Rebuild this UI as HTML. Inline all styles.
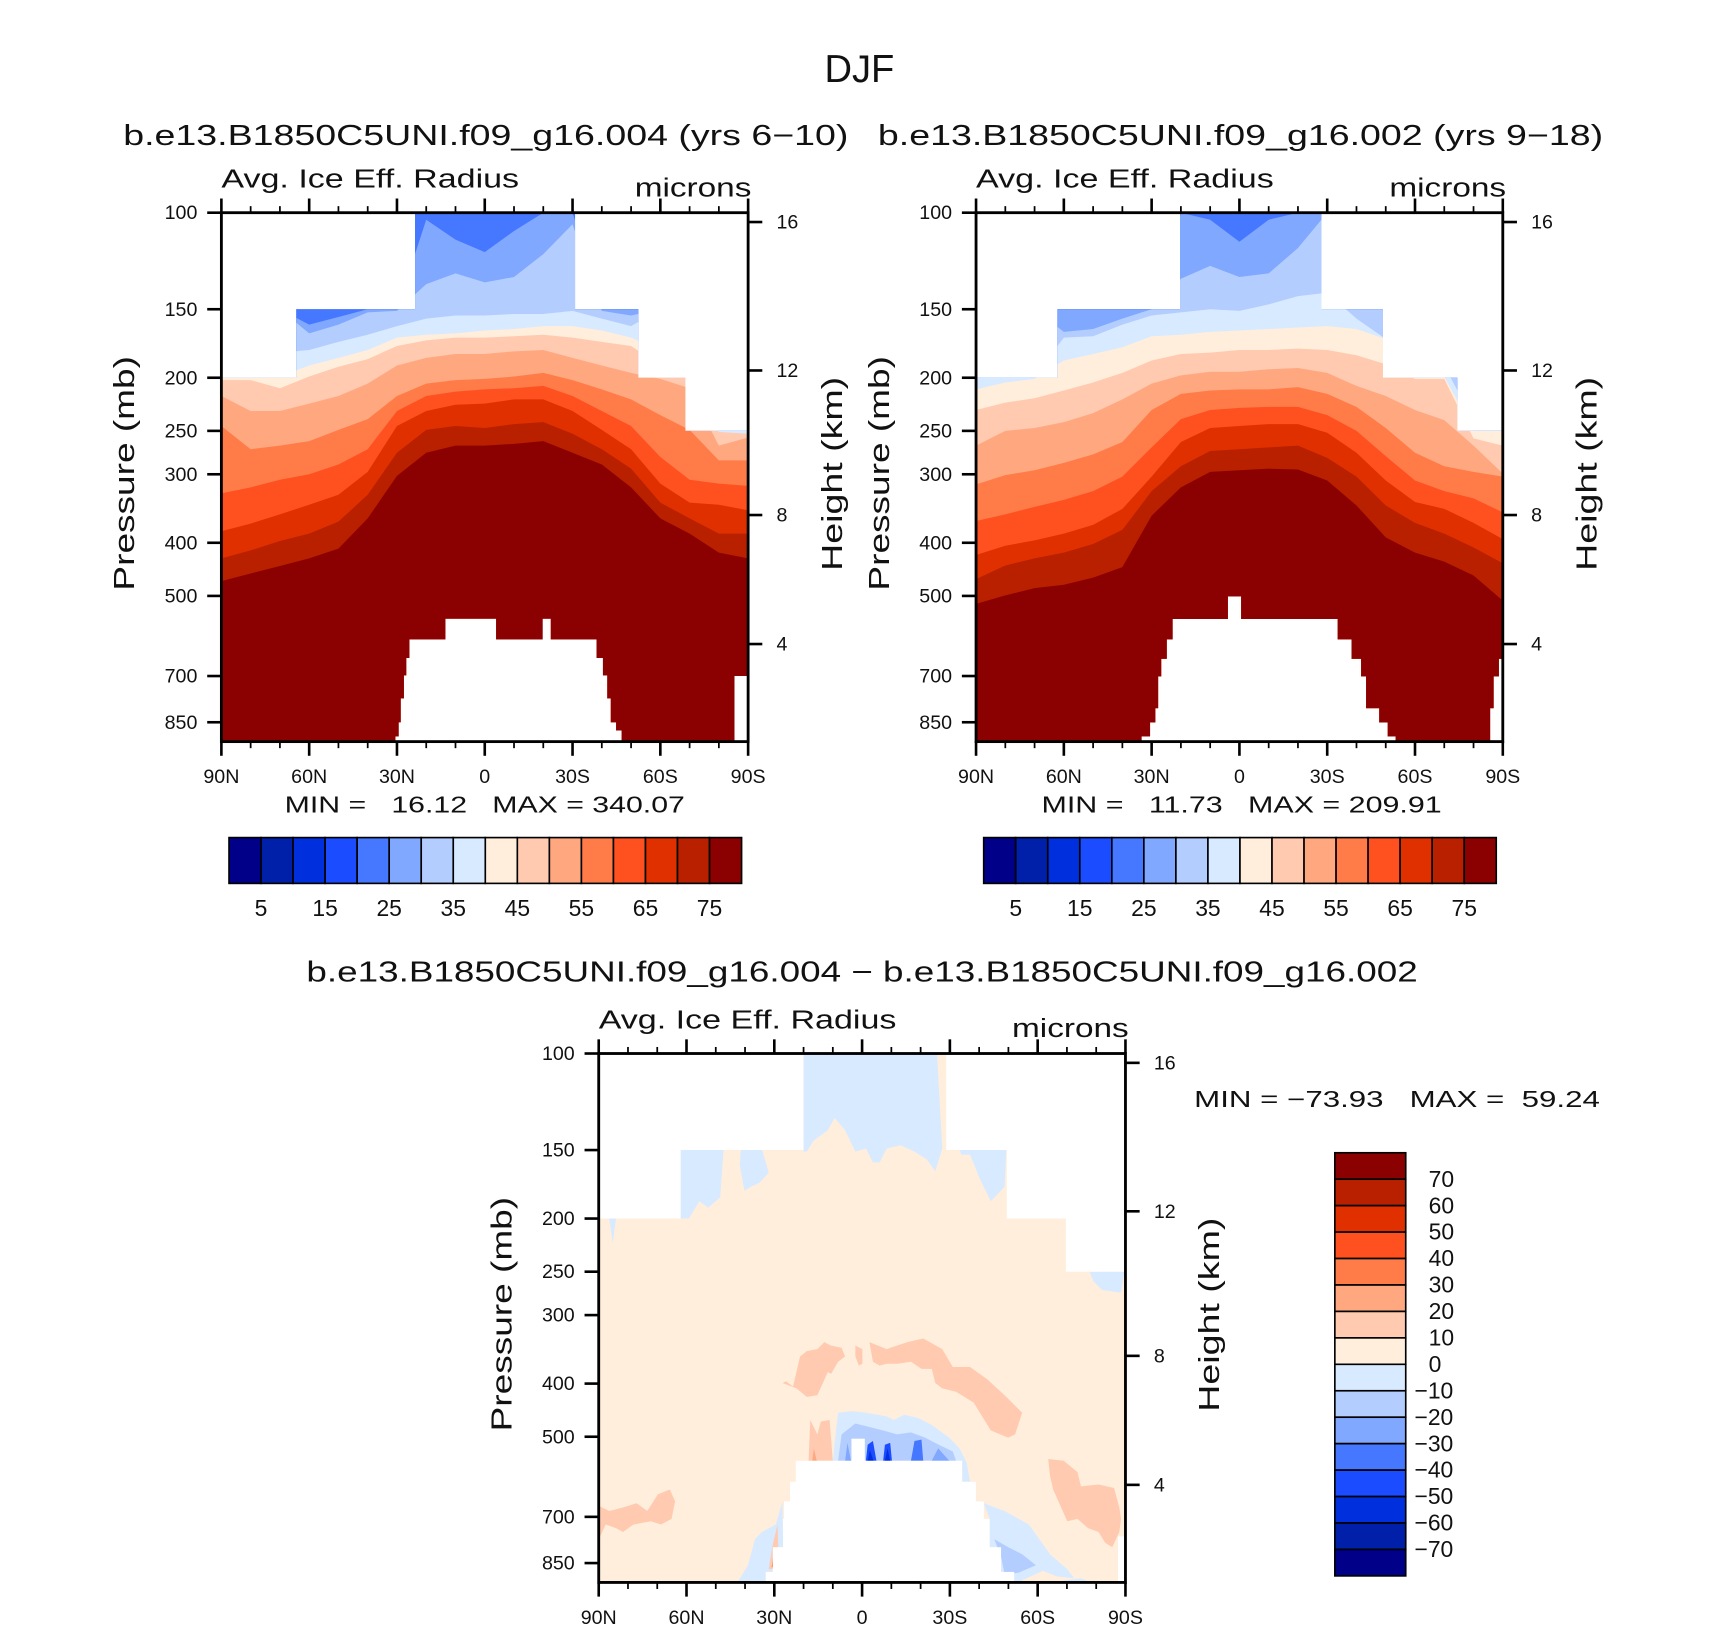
<!DOCTYPE html>
<html><head><meta charset="utf-8"><style>
html,body{margin:0;padding:0;background:#fff}
svg{display:block}
text{font-family:"Liberation Sans",sans-serif;fill:#111}
</style></head><body>
<svg id="fig" xmlns="http://www.w3.org/2000/svg" width="1710" height="1631" viewBox="0 0 1568 1495.5">
<rect width="1568" height="1496" fill="#fff"/>
<text x="756" y="75" font-size="36" textLength="64" lengthAdjust="spacingAndGlyphs">DJF</text>
<text x="113" y="133" font-size="26" textLength="665" lengthAdjust="spacingAndGlyphs">b.e13.B1850C5UNI.f09_g16.004 (yrs 6−10)</text>
<text x="805" y="133" font-size="26" textLength="665" lengthAdjust="spacingAndGlyphs">b.e13.B1850C5UNI.f09_g16.002 (yrs 9−18)</text>
<text x="281" y="900" font-size="26" textLength="1019" lengthAdjust="spacingAndGlyphs">b.e13.B1850C5UNI.f09_g16.004 − b.e13.B1850C5UNI.f09_g16.002</text>
<text x="261" y="745" font-size="21" textLength="367" lengthAdjust="spacingAndGlyphs" xml:space="preserve">MIN =   16.12   MAX = 340.07</text>
<text x="955" y="745" font-size="21" textLength="367" lengthAdjust="spacingAndGlyphs" xml:space="preserve">MIN =   11.73   MAX = 209.91</text>
<text x="1095" y="1015" font-size="21" textLength="372" lengthAdjust="spacingAndGlyphs" xml:space="preserve">MIN = −73.93   MAX =  59.24</text>
<g id="layer"></g>
</svg>
<script>
const COLORS = ['#000088','#0020aa','#0030dd','#1c4cff','#4678ff','#80a8ff','#b4cdff','#d8eaff','#ffeedc','#ffcab0','#ffa880','#ff7c48','#ff5020','#e03000','#b82000','#8b0000'];
const lats = [90,80,70,60,50,40,30,20,10,0,-10,-20,-30,-40,-50,-60,-70,-80,-90];
const latTicks = [90,60,30,0,-30,-60,-90];
const latTickLabels = ['90N','60N','30N','0','30S','60S','90S'];
const presTicks = [100,150,200,250,300,400,500,700,850];
const heightTicks = [16,12,8,4];
const heightTickPres = [104,194,356,612];
const absLevels = [20,25,30,35,40,45,50,55,60,65,70,75];
const absBarLabels = ['5','15','25','35','45','55','65','75'];
const diffBarLabels = ['70','60','50','40','30','20','10','0','−10','−20','−30','−40','−50','−60','−70'];

const p1_b20 = [100,100,100,100,100,100,100,100,100,100,100,100,100,100,100,100,100,100,100];
const p1_b25 = [150,150,150,160,155,150,150,103,112,118,108,100,100,150,150,150,150,150,150];
const p1_b30 = [150,150,150,166,160,152,151,135,129,134,131,119,105,151,154,150,150,150,150];
const p1_b35 = [180,180,180,178,172,167,161,156,154,154,153,153,151,156,161,150,150,150,150];
const p1_b40 = [200,198,199,190,184,178,169,167,166,164,163,161,161,164,169,178,184,251,253];
const p1_b45 = [202,202,209,199,191,185,175,171,169,169,168,167,169,172,175,190,190,251,253];
const p1_b50 = [216,230,230,223,216,205,190,184,181,181,179,178,184,190,196,201,209,266,257];
const p1_b55 = [245,270,266,261,249,238,216,205,202,201,199,196,202,210,219,234,249,283,283];
const p1_b60 = [325,317,307,300,288,270,230,216,212,210,209,207,216,230,245,279,307,312,315];
const p1_b65 = [381,369,355,341,327,297,245,230,224,223,219,219,230,249,270,312,338,341,349];
const p1_b70 = [427,413,397,385,366,327,274,249,245,247,243,241,253,270,293,338,361,385,385];
const p1_b75 = [470,455,441,427,410,361,302,274,266,266,264,261,274,288,317,361,385,417,427];
const p2_b20 = [100,100,100,100,100,100,100,100,100,100,100,100,100,100,100,100,100,100,100];
const p2_b25 = [150,150,150,150,150,150,150,100,103,113,103,100,100,150,150,150,150,150,150];
const p2_b30 = [150,150,150,165,163,156,150,132,125,131,129,116,100,140,140,150,150,150,150];
const p2_b35 = [199,199,199,169,168,160,154,152,150,151,147,142,140,156,170,190,190,240,240];
const p2_b40 = [210,204,201,186,181,176,168,167,165,164,163,162,161,163,170,198,199,250,250];
const p2_b45 = [229,222,218,211,204,196,186,181,180,178,178,177,178,182,189,201,201,258,266];
const p2_b50 = [266,250,247,241,232,219,205,198,195,195,193,192,196,207,216,229,239,266,299];
const p2_b55 = [313,301,295,286,276,262,229,214,211,210,210,208,214,226,247,274,290,297,303];
const p2_b60 = [365,355,344,334,322,303,268,238,229,227,226,226,234,250,278,308,322,332,352];
const p2_b65 = [421,405,396,385,371,347,303,262,247,245,243,243,252,274,308,337,347,368,394];
const p2_b70 = [466,440,427,417,402,379,322,290,272,270,268,266,280,303,342,368,385,408,436];
const p2_b75 = [517,499,484,477,463,443,357,317,297,295,293,294,308,342,391,417,433,459,510];

const mask1 = [[90,64.4,200,922],[64.4,30.7,150,922],[30.7,29.6,150,902],[29.6,28.9,150,850],[28.9,27.8,150,769],[27.8,27,150,698],[27,25.9,150,649],[25.9,23.8,150,600],[23.8,13.6,100,600],[13.6,-3.9,100,550],[-3.9,-19.6,100,600],[-19.6,-22.6,100,550],[-22.6,-30.7,100,600],[-30.7,-38.2,150,600],[-38.2,-40.4,150,649],[-40.4,-41.9,150,698],[-41.9,-43.1,150,769],[-43.1,-44.9,150,850],[-44.9,-46.8,150,880],[-46.8,-52.3,150,922],[-52.3,-68.4,200,922],[-68.4,-85.2,250,922],[-85.2,-90,250,700]];
const mask2 = [[90,62.2,200,922],[62.2,33.6,150,922],[33.6,30.7,150,902],[30.7,28.9,150,851],[28.9,27.95,150,801],[27.95,26.9,150,701],[26.9,25,150,651],[25,23,150,600],[23,20.3,150,551],[20.3,4.1,100,551],[4.1,-0.6,100,501],[-0.6,-27.9,100,551],[-27.9,-33.6,150,551],[-33.6,-38.3,150,600],[-38.3,-41.6,150,651],[-41.6,-43.3,150,701],[-43.3,-47.8,150,801],[-47.8,-48.9,150,851],[-48.9,-50.7,200,851],[-50.7,-53.4,200,902],[-53.4,-74.3,200,922],[-74.3,-85.5,250,922],[-85.5,-86.7,250,801],[-86.7,-88.5,250,701],[-88.5,-90,250,651]];
const mask3 = [[90,62,200,922],[62,33.1,150,922],[33.1,30.7,150,882],[30.7,27.2,150,795],[27.2,26.8,150,706],[26.8,24.8,150,656],[24.8,22.8,150,604],[22.8,20,150,553],[20,3.8,100,553],[3.8,-0.95,100,504],[-0.95,-28.6,100,553],[-28.6,-34.2,150,553],[-34.2,-38.9,150,604],[-38.9,-41.6,150,656],[-41.6,-43.6,150,706],[-43.6,-47.5,150,795],[-47.5,-49.3,150,882],[-49.3,-52,200,882],[-52,-69.5,200,922],[-69.5,-87.3,250,922],[-87.3,-90,250,760]];

const diffBackground = 5;
const blobTopBlue = [[20,100],[-25.6,100],[-27.4,149],[-25,164],[-22.1,156],[-17.9,151],[-13.2,147],[-8.4,149],[-6,158],[-3.7,158],[-1.3,149],[2.3,151],[5.8,138],[9.4,131],[11.7,138],[16.5,144],[18.9,151],[20,151]];
const blobLeftBoxBlue = [[62,149],[47.3,149],[48.5,183],[52.6,191],[55.6,186],[59.2,200],[62,200]];
const blobLeftStrip = [[41.4,149],[34.3,149],[31.9,165],[35,172],[38,175],[40.2,178],[41.8,160]];
const blobRightBoxBlue = [[-33.3,149],[-49.3,149],[-48.7,175],[-44,186],[-40.4,170],[-36.9,153],[-33.9,153]];
const blobRight250Blue = [[-77.8,250],[-89.6,250],[-88.5,273],[-82,270],[-79,260]];
const blobLeft200Blue = [[86.4,200],[84.1,200],[85.2,222]];
const blobArcLeft = [[27.2,399],[26,396],[23.6,405],[21.2,357],[18.9,349],[15.3,346],[12.9,336],[10.6,341],[7,344],[5.8,357],[8.2,365],[10.6,384],[11.7,381],[15.3,420],[18.9,423],[22.4,408]];
const blobArcSmall = [[2.3,341],[-0.1,346],[-0.1,368],[1.1,371],[2.3,357]];
const blobArcMain = [[-2.5,336],[-8.4,346],[-15.5,336],[-20.9,331],[-27.4,346],[-31,373],[-36.9,373],[-42.8,393],[-48.7,420],[-54.7,452],[-52.3,495],[-49.9,502],[-44,487],[-38.1,433],[-32.1,414],[-27.4,408],[-25,399],[-23.8,376],[-20.3,376],[-16.7,365],[-12,368],[-8.4,368],[-6,371],[-3.7,365]];
const blobLeftLow = [[90,668],[86.4,683],[81.7,673],[77,661],[73.4,683],[69.8,637],[65.7,624],[63.9,656],[65.1,706],[68.7,723],[72.2,713],[75.8,719],[78.1,723],[81.7,746],[84.1,734],[87.6,723],[90,769]];
const blobRightLow = [[-63.6,549],[-68.9,553],[-73.6,580],[-74.8,616],[-80.8,611],[-86.1,620],[-87.9,673],[-88.5,706],[-87.9,746],[-85.5,795],[-83.1,781],[-80.8,746],[-77.2,734],[-73.6,706],[-70.1,713],[-65.3,624],[-64.2,589]];
const blobLowCenterOrange = [[17.7,466],[15.3,495],[14.1,469],[11.1,466],[10,553],[18.3,553]];
const blobLowRedSpot = [[17,553],[16.5,525],[15.5,553]];
const blobLeftBottomBlue = [[42.6,922],[39,858],[36.6,769],[34.3,746],[29.5,723],[27.2,656],[26.8,922]];
const blobLeftBottomOrange = [[31.9,872],[30.7,795],[28.9,723],[28.6,807],[29.5,872]];
const blobLeftBottomRed = [[30.9,865],[30.5,832],[29.8,865]];
const blobCenterBlue = [[8.2,452],[3.4,449],[-1.3,452],[-8.4,459],[-10.8,466],[-14.4,456],[-19.1,462],[-23.8,476],[-29.8,502],[-33.3,525],[-35.7,557],[-36.9,604],[-34.2,604],[-34.2,553],[10,553],[8.8,480]];
const blobCenterBlue2 = [[7,495],[2.3,473],[-2.5,480],[-7.2,487],[-12,495],[-16.7,491],[-21.5,502],[-26.2,517],[-31,532],[-32.1,553],[8.2,553]];
const blobSpotA = [[-1.3,553],[-1.9,517],[-3.7,509],[-4.9,553]];
const blobSpotB = [[-7.2,553],[-7.8,517],[-9.6,513],[-10.2,553]];
const blobSpotC = [[-16.7,553],[-17.9,509],[-20.3,506],[-20.9,553]];
const blobSpotD = [[5.8,553],[5,513],[3.8,553]];
const blobSpotE = [[-23.8,553],[-26,525],[-29.8,553]];
const blobCoreA = [[-1.9,553],[-2.7,529],[-3.9,553]];
const blobCoreB = [[-7.8,553],[-8.7,525],[-9.6,553]];
const blobBottomRightBlue = [[-41.6,661],[-48.7,683],[-57,723],[-60.6,769],[-64.2,819],[-70.1,872],[-72.5,906],[-66.5,899],[-61.8,878],[-54.7,914],[-53.5,922],[-47.6,922],[-43.6,872],[-43.6,706]];
const blobBottomRightBlue2 = [[-45.2,769],[-49.9,795],[-54.7,819],[-59.4,858],[-53.5,885],[-48.7,892],[-47.6,832]];
const blobBottomStrip = [[-68.9,914],[-74.8,906],[-78.4,922],[-67.7,922]];
const blobRightBoxOrange = [[-51.4,149],[-52.1,149],[-52.1,183],[-51.4,183]];
const diffBlobs = [blobTopBlue,blobLeftBoxBlue,blobLeftStrip,blobRightBoxBlue,blobRight250Blue,blobLeft200Blue,blobArcLeft,blobArcSmall,blobArcMain,blobLeftLow,blobRightLow,blobLowCenterOrange,blobLowRedSpot,blobLeftBottomBlue,blobLeftBottomOrange,blobLeftBottomRed,blobCenterBlue,blobCenterBlue2,blobSpotA,blobSpotB,blobSpotC,blobSpotD,blobSpotE,blobCoreA,blobCoreB,blobBottomRightBlue,blobBottomRightBlue2,blobBottomStrip,blobRightBoxOrange];
const diffBlobValues = [-5,-5,-5,-5,-5,-5,15,15,15,15,15,15,25,-5,15,35,-5,-15,-45,-45,-35,-25,-25,-55,-55,-5,-15,-5,25];

const NS='http://www.w3.org/2000/svg';
const layer=document.getElementById('layer');
const PBOT=922;
function mk(tag,attrs,parent){const e=document.createElementNS(NS,tag);for(const k in attrs)e.setAttribute(k,attrs[k]);(parent||layer).appendChild(e);return e;}
function makeScales(x0,y0,W,H){return {x:lat=>x0+(90-lat)/180*W,y:p=>y0+Math.log10(p/100)/Math.log10(PBOT/100)*H};}
function diffColor(v){let i=Math.floor((v+80)/10);return COLORS[Math.max(0,Math.min(15,i))];}

function clipFor(id,mask,s){
  const cp=mk('clipPath',{id:id});
  mask.forEach(m=>{mk('rect',{x:s.x(m[0]),y:s.y(m[2]),width:s.x(m[1])-s.x(m[0])+0.4,height:s.y(m[3])-s.y(m[2])},cp);});
}

function axes(g,s,x0,y0,W,H,name){
  const ax=mk('g',{},g);
  
  
  mk('rect',{x:x0,y:y0,width:W,height:H,fill:'none',stroke:'#000','stroke-width':2.6},ax);
  for(let lat=90;lat>=-90;lat-=10){
    const x=s.x(lat);const major=(lat%30===0);const L=major?13:6;
    mk('line',{x1:x,y1:y0,x2:x,y2:y0-L,stroke:'#000','stroke-width':major?2.4:1.6},ax);
    mk('line',{x1:x,y1:y0+H,x2:x,y2:y0+H+L,stroke:'#000','stroke-width':major?2.4:1.6},ax);
  }
  latTicks.forEach((lat,i)=>{const t=mk('text',{x:s.x(lat),y:y0+H+38,'font-size':18,'text-anchor':'middle'},ax);t.textContent=latTickLabels[i];
    
    });
  presTicks.forEach(p=>{const y=s.y(p);mk('line',{x1:x0,y1:y,x2:x0-13,y2:y,stroke:'#000','stroke-width':2.4},ax);
    const t=mk('text',{x:x0-22,y:y+6,'font-size':18,'text-anchor':'end'},ax);t.textContent=p;
    
    });
  heightTicks.forEach((h,i)=>{const y=s.y(heightTickPres[i]);mk('line',{x1:x0+W,y1:y,x2:x0+W+13,y2:y,stroke:'#000','stroke-width':2.4},ax);
    const t=mk('text',{x:x0+W+26,y:y+6,'font-size':18},ax);t.textContent=h;
    
    });
  let t=mk('text',{x:x0,y:y0-23,'font-size':24,textLength:273,lengthAdjust:'spacingAndGlyphs'},ax);t.textContent='Avg. Ice Eff. Radius';
  
  
  t=mk('text',{x:x0+W+3-107,y:y0-15,'font-size':24,textLength:107,lengthAdjust:'spacingAndGlyphs'},ax);t.textContent='microns';
  
  
  t=mk('text',{x:-107,y:0,'font-size':26,textLength:215,lengthAdjust:'spacingAndGlyphs',transform:`translate(${x0-80},${y0+H/2-3}) rotate(-90)`},ax);t.textContent='Pressure (mb)';
  
  
  t=mk('text',{x:-89,y:0,'font-size':26,textLength:178,lengthAdjust:'spacingAndGlyphs',transform:`translate(${x0+W+86},${y0+H/2-3}) rotate(-90)`},ax);t.textContent='Height (km)';
  
  
}

function absPanel(id,x0,y0,W,H,mask,bounds){
  const s=makeScales(x0,y0,W,H);
  clipFor(id+'-clip',mask,s);
  const g=mk('g',{'clip-path':`url(#${id}-clip)`});
  
  
  const bg=mk('rect',{x:x0,y:y0,width:W,height:H,fill:COLORS[3]},g);
  
  
  absLevels.forEach((lev,k)=>{
    const b=bounds[k];
    let d=`M${s.x(90)},${s.y(PBOT)+2}`;
    lats.forEach((lat,i)=>{d+=` L${s.x(lat)},${s.y(b[i])}`;});
    d+=` L${s.x(-90)},${s.y(PBOT)+2} Z`;
    const pth=mk('path',{d:d,fill:COLORS[Math.min(15,lev/5)]},g);
    
    
  });
  const outer=mk('g',{});axes(outer,s,x0,y0,W,H,id);
}

function hBar(id,x0,y0,W,H){
  const g=mk('g',{});
  
  
  const bw=W/16;
  COLORS.forEach((c,i)=>{const r=mk('rect',{x:x0+i*bw,y:y0,width:bw,height:H,fill:c,stroke:'#000','stroke-width':1.5},g);
    
    });
  absBarLabels.forEach((lab,i)=>{const t=mk('text',{x:x0+(1+2*i)*bw,y:y0+H+30,'font-size':21,'text-anchor':'middle'},g);t.textContent=lab;
    
    });
}

absPanel('panel1',203,195,483,485,mask1,[p1_b20,p1_b25,p1_b30,p1_b35,p1_b40,p1_b45,p1_b50,p1_b55,p1_b60,p1_b65,p1_b70,p1_b75]);
absPanel('panel2',895,195,483,485,mask2,[p2_b20,p2_b25,p2_b30,p2_b35,p2_b40,p2_b45,p2_b50,p2_b55,p2_b60,p2_b65,p2_b70,p2_b75]);
hBar('colorbar1',210,768,470,42);
hBar('colorbar2',902,768,470,42);

(function(){
  const x0=549,y0=966,W=483,H=485;
  const s=makeScales(x0,y0,W,H);
  clipFor('panel3-clip',mask3,s);
  const g=mk('g',{'clip-path':'url(#panel3-clip)'});
  
  
  const bg=mk('rect',{x:x0,y:y0,width:W,height:H,fill:diffColor(diffBackground)},g);
  
  
  diffBlobs.forEach((bl,i)=>{
    const pts=bl.map(v=>s.x(v[0])+','+s.y(v[1])).join(' ');
    const pg=mk('polygon',{points:pts,fill:diffColor(diffBlobValues[i])},g);
    
    
  });
  const outer=mk('g',{});axes(outer,s,x0,y0,W,H,'panel3');
  const cb=mk('g',{});
  
  
  const bx=1224,by=1057,bw=65,bh=388/16;
  COLORS.slice().reverse().forEach((c,i)=>{const r=mk('rect',{x:bx,y:by+i*bh,width:bw,height:bh,fill:c,stroke:'#000','stroke-width':1.5},cb);
    
    });
  diffBarLabels.forEach((lab,i)=>{const t=mk('text',{x:lab.startsWith('−')?1297:1310,y:by+(i+1)*bh+7,'font-size':21},cb);t.textContent=lab;
    
    });
})();
</script>
</body></html>
